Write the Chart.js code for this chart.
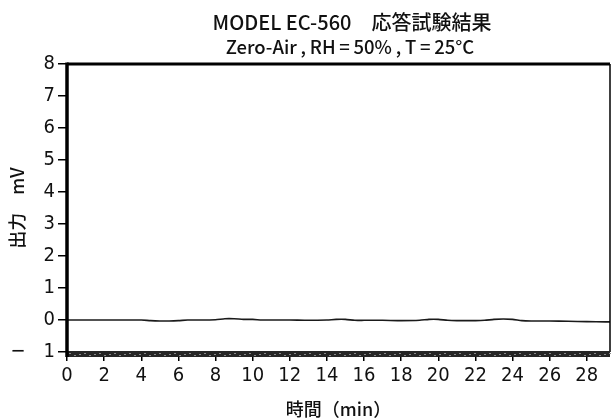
<!DOCTYPE html>
<html>
<head>
<meta charset="utf-8">
<script src="https://cdn.jsdelivr.net/npm/chart.js@4/dist/chart.umd.min.js"></script>
<style>
  html, body { margin: 0; padding: 0; background: #fff; }
  #wrap { width: 612px; height: 419px; position: relative; }
</style>
</head>
<body>
<div id="wrap"><canvas id="c" width="612" height="419"></canvas></div>
<script>
// Response test record: output (mV) against elapsed time (min)
const titleText = 'MODEL EC-560\u3000応答試験結果';
const subtitleText = 'Zero-Air\u2009,\u2009RH\u2009=\u200950%\u2009,\u2009T\u2009=\u200925°C';

const timeMin = [0, 1, 2, 3, 4, 4.5, 5, 5.5, 6, 6.5, 7, 8, 8.5, 9, 9.5, 10, 10.5, 11, 12, 13, 14, 14.5, 15, 15.5, 16, 17, 18, 19, 19.5, 20, 20.5, 21, 22, 22.5, 23, 23.5, 24, 24.5, 25, 26, 27, 28, 29, 29.25];
const outputMv = [0.00, 0.00, 0.00, 0.00, 0.00, -0.02, -0.03, -0.03, -0.02, 0.00, 0.00, 0.01, 0.04, 0.04, 0.02, 0.02, 0.00, 0.00, 0.00, -0.01, 0.00, 0.02, 0.02, -0.01, -0.01, -0.01, -0.02, -0.01, 0.02, 0.02, -0.01, -0.02, -0.02, -0.01, 0.02, 0.03, 0.02, -0.02, -0.03, -0.03, -0.04, -0.05, -0.06, -0.06];

const xTickValues = [0, 2, 4, 6, 8, 10, 12, 14, 16, 18, 20, 22, 24, 26, 28];
const yTickValues = [-1, 0, 1, 2, 3, 4, 5, 6, 7, 8];
const xRange = [0, 29.25];
const yRange = [-1, 8];

const tickFont = { family: '"Liberation Sans Narrow", "DejaVu Sans Condensed", "DejaVu Sans", sans-serif', size: 20 };
const cjkFamily = '"Noto Sans CJK JP", "Noto Sans", sans-serif';

// Frame and heading drawn around the plotting area
const framePlugin = {
  id: 'frame',
  afterDatasetsDraw(chart) {
    const { ctx, chartArea: a } = chart;
    ctx.save();
    ctx.strokeStyle = '#000';
    ctx.lineCap = 'butt';
    // top edge
    ctx.lineWidth = 3;
    ctx.beginPath(); ctx.moveTo(a.left, a.top); ctx.lineTo(a.right, a.top); ctx.stroke();
    // right edge
    ctx.lineWidth = 1.5;
    ctx.beginPath(); ctx.moveTo(a.right, a.top); ctx.lineTo(a.right, a.bottom); ctx.stroke();
    // bottom band
    ctx.fillStyle = '#262626';
    ctx.fillRect(a.left, a.bottom - 1, a.right - a.left, 6);
    ctx.fillStyle = '#8a8a8a';
    for (let x = a.left + 2; x < a.right; x += 5) {
      ctx.fillRect(x, a.bottom + 1 + (x % 3), 2, 1);
    }
    // left edge
    ctx.strokeStyle = '#000';
    ctx.lineWidth = 3.5;
    ctx.beginPath(); ctx.moveTo(a.left, a.top - 1.5); ctx.lineTo(a.left, a.bottom + 5); ctx.stroke();
    ctx.restore();
  },
  afterDraw(chart) {
    const { ctx } = chart;
    ctx.save();
    ctx.fillStyle = '#111';
    ctx.textAlign = 'center';
    ctx.textBaseline = 'middle';
    ctx.font = '500 20px ' + cjkFamily;
    ctx.fillText(titleText, 352, 22);
    ctx.font = '500 18.5px ' + cjkFamily;
    ctx.fillText(subtitleText, 350, 47);
    ctx.restore();
  }
};

new Chart(document.getElementById('c'), {
  type: 'line',
  data: {
    datasets: [{
      data: timeMin.map((t, i) => ({ x: t, y: outputMv[i] })),
      borderColor: '#1a1a1a',
      borderWidth: 1.6,
      pointRadius: 0,
      tension: 0.2,
      fill: false
    }]
  },
  options: {
    responsive: false,
    animation: false,
    layout: { padding: { top: 64, right: 2, left: 0, bottom: 0 } },
    plugins: {
      legend: { display: false },
      tooltip: { enabled: false }
    },
    scales: {
      x: {
        type: 'linear',
        min: xRange[0],
        max: xRange[1],
        afterBuildTicks(scale) { scale.ticks = xTickValues.map(v => ({ value: v })); },
        afterFit(scale) { scale.height = 67; },
        grid: { drawOnChartArea: false, drawTicks: true, tickLength: 9, color: '#000', lineWidth: 1.5 },
        border: { display: false },
        ticks: { color: '#111', font: tickFont, padding: 3, maxRotation: 0, autoSkip: false },
        title: { display: true, text: '時間（min）', color: '#111', font: { family: cjkFamily, size: 18, weight: '500' }, padding: { top: 0, bottom: -1 } }
      },
      y: {
        min: yRange[0],
        max: yRange[1],
        afterBuildTicks(scale) { scale.ticks = yTickValues.map(v => ({ value: v })); },
        afterFit(scale) { scale.width = 67; },
        grid: { drawOnChartArea: false, drawTicks: true, tickLength: 9, color: '#000', lineWidth: 1.5 },
        border: { display: false },
        ticks: {
          color: '#111', font: tickFont, padding: 3,
          callback: v => (v < 0 ? '\u2212\u2002\u2002' + Math.abs(v) : String(v))
        },
        title: { display: true, text: '出力\u3000mV', color: '#111', font: { family: cjkFamily, size: 18, weight: '500' }, padding: { top: 6, bottom: 0 } }
      }
    }
  },
  plugins: [framePlugin]
});
</script>
</body>
</html>
